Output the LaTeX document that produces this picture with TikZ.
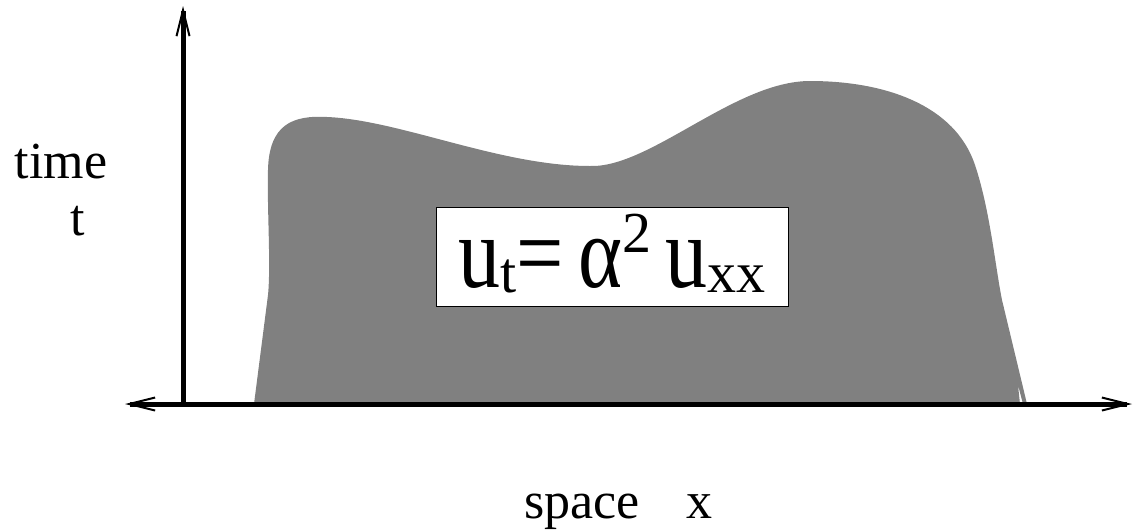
\documentclass[tikz,border=0pt]{standalone}
\usepackage{fontspec}
\setmainfont{Liberation Serif}
\usepackage{graphicx}
\usetikzlibrary{arrows.meta}

\newcommand{\tallchar}[1]{\scalebox{1}[1.22]{#1}}
\newcommand{\lowidx}[1]{\raisebox{-5pt}{\fontsize{58}{64}\selectfont #1}}
\newcommand{\highidx}[1]{\raisebox{35pt}{\fontsize{58}{64}\selectfont #1}}

\tikzset{
  axistip/.tip={Straight Barb[length=26pt, width=13pt, line width=2pt]},
  axis/.style={line width=5pt},
  eqbox/.style={draw, line width=1pt, fill=white, inner sep=0pt,
    minimum width=352pt, minimum height=99pt,
    text height=66pt, text depth=5pt, font=\fontsize{84}{90}\selectfont},
  label/.style={anchor=base, font=\fontsize{52}{60}\selectfont}
}

\begin{document}
\begin{tikzpicture}[x=1pt, y=-1pt]
  \useasboundingbox (0,0) rectangle (1133,531);
  % region where the equation holds
  \fill[gray] (254,404) -- (268,295)
    .. controls (271,265) and (267,210) .. (268,170)
    .. controls (269,125) and (292,115) .. (327,117)
    .. controls (400,120) and (500,166) .. (590,166)
    .. controls (650,168) and (735,81) .. (810,81)
    .. controls (885,81) and (955,105) .. (975,165)
    .. controls (990,210) and (995,265) .. (1002,300)
    -- (1027,404) -- (1023,404) -- (1018,385) -- (1020,404) -- cycle;
  % axes
  \coordinate (origin) at (183,404);
  \coordinate (ttip) at (183,6);
  \coordinate (xleft) at (125,404);
  \coordinate (xright) at (1132,404);
  \draw[axis, -axistip] (origin) -- (ttip);
  \draw[axis, axistip-axistip] (xleft) -- (xright);
  \node[label] (timelabel) at (61,178) {time};
  \node[label] (tlabel) at (78,235) {t};
  \node[label, anchor=base west] (xlabel) at (521,518) {space\hspace{0.9em}x};
  \node[eqbox] (eq) at (612,256.5)
    {\tallchar{u}\lowidx{t}\tallchar{=}\,\tallchar{α}\highidx{2}\,\tallchar{u}\lowidx{xx}};
\end{tikzpicture}
\end{document}
